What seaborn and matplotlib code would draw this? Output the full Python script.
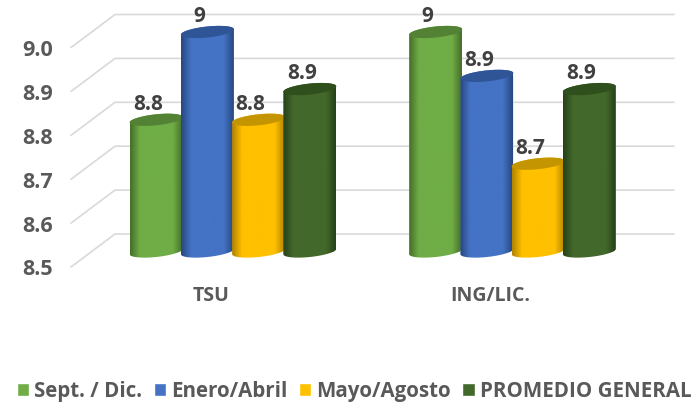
import numpy as np
import pandas as pd
import matplotlib
matplotlib.use('Agg')
import matplotlib.pyplot as plt
from matplotlib.colors import LinearSegmentedColormap
from matplotlib.patches import Polygon
import seaborn as sns

carreras = ['TSU', 'ING/LIC.']
periodos = ['Sept. / Dic.', 'Enero/Abril', 'Mayo/Agosto', 'PROMEDIO GENERAL']
tsu = [8.80, 9.00, 8.80, 8.87]
ing = [9.00, 8.90, 8.70, 8.87]
escala = [8.5, 8.6, 8.7, 8.8, 8.9, 9.0]
colores = ['#70ad47', '#4472c4', '#ffc000', '#43682b']
bordes = ['#457029', '#28497f', '#b08400', '#27421a']
tapas = ['#548235', '#2f5597', '#c49500', '#2f4f1c']

sns.set_theme(style='white')
plt.rcParams['font.family'] = ['Open Sans', 'DejaVu Sans']

df = pd.DataFrame({
    'carrera': [c for c in carreras for _ in periodos],
    'periodo': periodos * 2,
    'promedio': tsu + ing,
})

# one axes over the whole figure, scale fixed so 0.1 points = 43.9 px
fig = plt.figure(figsize=(6.96, 4.06), dpi=100)
ax = fig.add_axes([0, 0, 1, 1])
px_x = 1 / 279.5
px_y = 1 / 439
sns.barplot(data=df, x='carrera', y='promedio', hue='periodo', hue_order=periodos,
            palette=colores, width=0.733, gap=0, saturation=1, errorbar=None, ax=ax)
xlim = (-233 * px_x, (696 - 233) * px_x)
ylim = (8.5 - 153.5 * px_y, 8.5 + 252.5 * px_y)
handles, labels = ax.get_legend_handles_labels()
if ax.get_legend():
    ax.get_legend().remove()

# perspective grid
x_front = xlim[0] + 71 * px_x
x_back = xlim[0] + 115 * px_x
x_end = xlim[0] + 674 * px_x
for v in escala:
    y_front = v - 15.5 * px_y
    y_back = v + 17.5 * px_y
    ax.plot([x_front, x_back, x_end], [y_front, y_back, y_back], color='#d9d9d9', lw=1.2, zorder=1)
    ax.text(xlim[0] + 37.5 * px_x, y_front - 2 * px_y, f'{v:.1f}', ha='center', va='center',
            fontsize=15.5, fontweight='bold', color='#595959')

# cylinders on top of the seaborn bars
t = np.linspace(0, 2 * np.pi, 121)
a_y = 5.5 * px_y
tilt = 2.7 * px_y
n = len(periodos)
sombra = np.interp(np.linspace(0, 1, 64), [0, 0.25, 0.75, 1], [0, 0.45, 0.55, 1])[None, :]
for i, cont in enumerate(ax.containers):
    cmap = LinearSegmentedColormap.from_list('c', [bordes[i], colores[i], colores[i], bordes[i]])
    for j, bar in enumerate(cont):
        z = 3 + i + j * n
        valor = bar.get_height()
        w = 53 * px_x
        cx = bar.get_x() + bar.get_width() / 2
        ex = cx + w / 2 * np.cos(t)
        low = t[(t >= np.pi)]
        up = t[(t <= np.pi)]
        xs = np.r_[cx + w / 2 * np.cos(low), cx + w / 2 * np.cos(up)]
        ys = np.r_[8.5 + a_y * np.sin(low) + tilt * np.cos(low),
                   valor + a_y * np.sin(up) + tilt * np.cos(up)]
        body = Polygon(np.c_[xs, ys], closed=True, fc='none', ec='none', zorder=z)
        ax.add_patch(body)
        bar.set_y(8.5)
        bar.set_height(valor - 8.5)
        bar.set_zorder(z)
        bar.set_clip_path(body)
        img = ax.imshow(sombra, cmap=cmap, vmin=0, vmax=1,
                        extent=(cx - w / 2, cx + w / 2, 8.4, valor + 0.05), aspect='auto',
                        interpolation='bilinear', zorder=z)
        img.set_clip_path(body)
        ax.add_patch(Polygon(np.c_[ex, valor + a_y * np.sin(t) + tilt * np.cos(t)], closed=True,
                             fc=tapas[i], ec='none', zorder=z + 0.1))
        ax.text(cx - 8 * px_x, valor + 16.5 * px_y, f'{round(valor, 1):g}', ha='center', va='center',
                fontsize=15, fontweight='bold', color='#404040', zorder=40)

for k, c in enumerate(carreras):
    ax.text(k - 22 * px_x, 8.5 - 43 * px_y, c, ha='center', va='center',
            fontsize=14, fontweight='bold', color='#595959')

leg = ax.legend(handles, labels, ncol=4, loc='center left', bbox_to_anchor=(17 / 696, 14 / 406), frameon=False,
                prop={'weight': 'bold', 'size': 14.8}, labelcolor='#595959', handlelength=0.6,
                handleheight=0.6, handletextpad=0.25, columnspacing=0.55, borderpad=0, borderaxespad=0)

ax.set_xlim(xlim)
ax.set_ylim(ylim)
ax.set_xticks([])
ax.set_yticks([])
ax.set_xlabel('')
ax.set_ylabel('')
sns.despine(ax=ax, left=True, bottom=True)
fig.savefig('out.png', dpi=100)
